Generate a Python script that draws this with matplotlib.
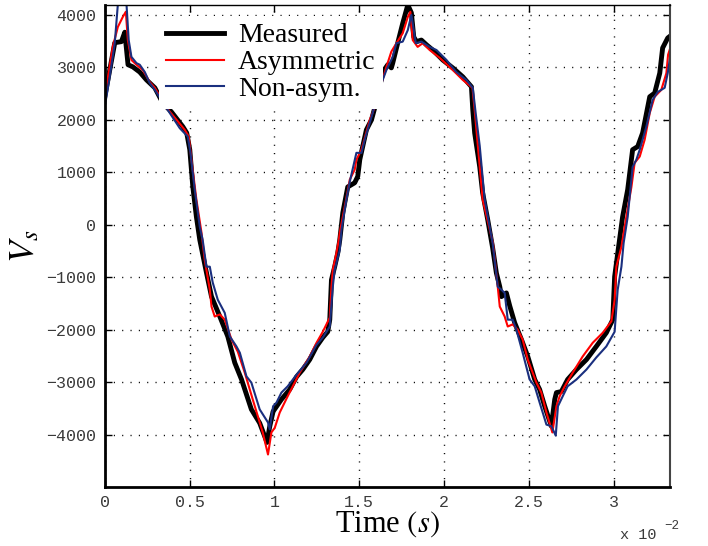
import matplotlib
matplotlib.use("Agg")
import matplotlib.pyplot as plt

plt.rcParams['mathtext.fontset'] = 'stix'

# Measured
t_meas = [0.000, 0.059, 0.098, 0.118, 0.137, 0.165, 0.206, 0.246, 0.295, 0.342, 0.393, 0.460, 0.483,
          0.501, 0.519, 0.540, 0.560, 0.599, 0.629, 0.678, 0.725, 0.766, 0.806, 0.864, 0.913, 0.956,
          0.972, 0.992, 1.041, 1.090, 1.130, 1.167, 1.208, 1.248, 1.285, 1.314, 1.326, 1.336, 1.355,
          1.373, 1.385, 1.403, 1.432, 1.473, 1.491, 1.503, 1.542, 1.572, 1.609, 1.638, 1.668, 1.689,
          1.697, 1.727, 1.756, 1.786, 1.807, 1.821, 1.837, 1.866, 1.896, 1.933, 1.992, 2.051, 2.110,
          2.161, 2.169, 2.180, 2.210, 2.227, 2.257, 2.286, 2.308, 2.328, 2.338, 2.367, 2.387, 2.416,
          2.456, 2.493, 2.534, 2.563, 2.593, 2.632, 2.652, 2.662, 2.691, 2.728, 2.780, 2.839, 2.897,
          2.956, 2.994, 3.005, 3.023, 3.052, 3.082, 3.111, 3.141, 3.170, 3.212, 3.241, 3.271, 3.288,
          3.318, 3.330]
v_meas = [2440, 3470, 3490, 3670, 3050, 3010, 2910, 2760, 2610, 2320, 2150, 1870, 1750,
          1430, 720, 150, -290, -910, -1370, -1750, -2130, -2630, -2950, -3520, -3780, -4150,
          -3850, -3560, -3330, -3140, -2900, -2760, -2570, -2320, -2150, -2040, -1810, -1050, -800,
          -540, -290, 230, 720, 800, 920, 1240, 1810, 2000, 2440, 2910, 3050, 2990,
          3080, 3470, 3840, 4190, 4040, 3580, 3490, 3520, 3430, 3330, 3140, 2990, 2820,
          2630, 2190, 1750, 1100, 610, 95, -440, -920, -1180, -1370, -1300, -1550, -1870,
          -2190, -2510, -2950, -3140, -3460, -3840, -3330, -3200, -3180, -2950, -2760, -2570, -2320,
          -2060, -1810, -990, -550, 150, 670, 1430, 1490, 1750, 2440, 2510, 2890, 3370,
          3560, 3590]

# Asymmetric model
t_asym = [0.000, 0.047, 0.077, 0.106, 0.124, 0.136, 0.157, 0.187, 0.224, 0.265, 0.295, 0.364, 0.423,
          0.471, 0.495, 0.511, 0.540, 0.570, 0.589, 0.619, 0.629, 0.648, 0.678, 0.707, 0.747, 0.784,
          0.825, 0.872, 0.931, 0.962, 0.982, 1.002, 1.031, 1.078, 1.149, 1.208, 1.248, 1.285, 1.326,
          1.336, 1.344, 1.365, 1.379, 1.385, 1.414, 1.444, 1.473, 1.483, 1.513, 1.562, 1.601, 1.631,
          1.660, 1.689, 1.719, 1.756, 1.786, 1.801, 1.815, 1.844, 1.874, 1.915, 1.974, 2.051, 2.110,
          2.167, 2.180, 2.227, 2.288, 2.316, 2.328, 2.357, 2.375, 2.404, 2.434, 2.463, 2.493, 2.544,
          2.573, 2.603, 2.638, 2.662, 2.681, 2.711, 2.758, 2.817, 2.876, 2.935, 2.986, 3.005, 3.015,
          3.045, 3.074, 3.104, 3.123, 3.153, 3.182, 3.212, 3.241, 3.280, 3.310, 3.320, 3.335]
v_asym = [2440, 3390, 3770, 3960, 4060, 3520, 3140, 3050, 2950, 2720, 2610, 2230, 2000,
          1810, 1680, 1240, 480, -150, -670, -1240, -1560, -1750, -1710, -1810, -2190, -2420,
          -2820, -3330, -3960, -4380, -3960, -3870, -3580, -3270, -2820, -2510, -2250, -2040, -1770,
          -1180, -860, -540, -290, -150, 340, 860, 1050, 1240, 1430, 2000, 2320, 2700,
          3010, 3300, 3460, 3650, 3960, 4060, 3520, 3390, 3460, 3330, 3180, 2950, 2760,
          2610, 2190, 480, -350, -1180, -1560, -1750, -1940, -1900, -2000, -2190, -2570, -3010,
          -3200, -3580, -3960, -3460, -3270, -3080, -2820, -2510, -2250, -2060, -1840, -1430, -800,
          -420, 150, 720, 1180, 1300, 1620, 2130, 2440, 2570, 2890, 3240, 3390]

# Non-asymmetric model
t_nasym = [0.000, 0.029, 0.059, 0.077, 0.088, 0.128, 0.141, 0.157, 0.187, 0.206, 0.236, 0.265, 0.295,
           0.383, 0.442, 0.489, 0.505, 0.530, 0.560, 0.577, 0.599, 0.619, 0.636, 0.666, 0.707, 0.737,
           0.776, 0.796, 0.835, 0.864, 0.913, 0.962, 0.972, 0.992, 1.012, 1.041, 1.078, 1.130, 1.189,
           1.248, 1.285, 1.326, 1.344, 1.355, 1.385, 1.395, 1.424, 1.444, 1.483, 1.513, 1.532, 1.579,
           1.609, 1.660, 1.697, 1.719, 1.756, 1.786, 1.807, 1.821, 1.833, 1.866, 1.915, 1.955, 2.014,
           2.072, 2.131, 2.169, 2.186, 2.210, 2.239, 2.286, 2.316, 2.338, 2.357, 2.375, 2.404, 2.426,
           2.463, 2.504, 2.534, 2.563, 2.603, 2.632, 2.658, 2.671, 2.699, 2.728, 2.780, 2.839, 2.897,
           2.956, 3.005, 3.023, 3.045, 3.058, 3.082, 3.111, 3.133, 3.153, 3.192, 3.229, 3.259, 3.300,
           3.318, 3.340]
v_nasym = [2250, 2820, 3470, 4200, 4250, 4200, 3520, 3200, 3080, 3050, 2910, 2700, 2570,
           2130, 1840, 1680, 1370, 670, -40, -290, -800, -800, -1100, -1430, -1680, -2130,
           -2320, -2440, -2890, -3010, -3520, -3770, -3900, -3460, -3390, -3200, -3080, -2860, -2630,
           -2290, -2150, -1940, -1180, -860, -480, -100, 480, 820, 1370, 1370, 1620, 2130,
           2510, 2950, 3200, 3460, 3490, 3710, 4000, 3710, 3460, 3490, 3390, 3330, 3140,
           2910, 2760, 2610, 2130, 1500, 480, -350, -1180, -1240, -1300, -1810, -1810, -2000,
           -2440, -2950, -3080, -3390, -3810, -3840, -4020, -3460, -3270, -3080, -2950, -2760, -2530,
           -2320, -2040, -1240, -800, -350, 150, 1100, 1240, 1430, 1870, 2380, 2530, 2610,
           2890, 3370]

labels = ['Measured', 'Asymmetric', 'Non-asym.']
x_ticks = [0, 0.5, 1, 1.5, 2, 2.5, 3]
x_ticklabels = ['0', '0.5', '1', '1.5', '2', '2.5', '3']
y_ticks = [-4000, -3000, -2000, -1000, 0, 1000, 2000, 3000, 4000]

fig = plt.figure(figsize=(7.08, 5.46), dpi=100)
ax = fig.add_axes([0.148, 0.108, 0.798, 0.883])

ax.plot(t_meas, v_meas, color='black', lw=3.5, label=labels[0], solid_joinstyle='round')
ax.plot(t_asym, v_asym, color='#ff0000', lw=1.5, label=labels[1])
ax.plot(t_nasym, v_nasym, color='#1a2f7f', lw=1.5, label=labels[2])

ax.set_xlim(0, 3.33)
ax.set_ylim(-5000, 4190)
ax.set_xticks(x_ticks)
ax.set_xticklabels(x_ticklabels)
ax.set_yticks(y_ticks)

ax.grid(True, color='black', linestyle=(0, (0.8, 5.2)), linewidth=1.0)
ax.tick_params(direction='in', top=True, right=True, length=5, width=1,
               labelsize=12, labelcolor='#3a3a3a', pad=6)
for lab in ax.get_xticklabels() + ax.get_yticklabels():
    lab.set_family('Liberation Mono')

for side in ['left', 'bottom', 'top']:
    ax.spines[side].set_color('black')
ax.spines['left'].set_linewidth(2.0)
ax.spines['bottom'].set_linewidth(2.0)
ax.spines['top'].set_linewidth(1.0)
ax.spines['right'].set_color('#444444')
ax.spines['right'].set_linewidth(1.5)

ax.set_xlabel('Time $(s)$', fontsize=22, family='Liberation Serif', labelpad=-1)
ax.set_ylabel('$V_s$', fontsize=26, labelpad=4)

leg = ax.legend(loc='upper left', bbox_to_anchor=(0.096, 0.977), borderaxespad=0,
                frameon=True, fancybox=False, edgecolor='none', facecolor='white', framealpha=1,
                prop={'family': 'Liberation Serif', 'size': 20},
                handlelength=2.1, handletextpad=0.5, labelspacing=0.05, borderpad=0.25)

fig.text(0.876, 0.012, 'x 10', fontsize=11, family='Liberation Mono', color='#3a3a3a')
fig.text(0.938, 0.032, '−2', fontsize=9, family='Liberation Mono', color='#3a3a3a')

fig.savefig('out.png', dpi=100)
